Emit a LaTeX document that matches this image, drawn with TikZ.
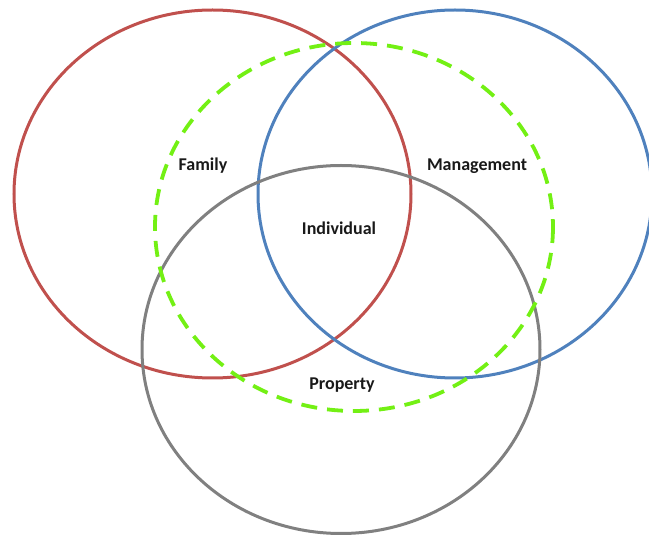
\documentclass[tikz,border=0pt]{standalone}
\usepackage{fontspec}
\setmainfont{Carlito}
\definecolor{vred}{RGB}{192,80,77}
\definecolor{vblue}{RGB}{79,129,189}
\definecolor{vgreen}{RGB}{115,240,20}
\definecolor{vgray}{RGB}{128,128,128}
\begin{document}
\begin{tikzpicture}[x=1pt,y=-1pt,
  ring/.style={line width=3pt},
  lbl/.style={font=\bfseries\fontsize{18}{20}\selectfont, text=black!90, inner sep=0pt}]
\useasboundingbox (0,0) rectangle (649,537);
\draw[ring, vred] (212.5,194) ellipse [x radius=198.5, y radius=184];
\draw[ring, vblue] (455,194) ellipse [x radius=197, y radius=184];
\draw[ring, vgray] (341,349.5) ellipse [x radius=199, y radius=184];
\draw[line width=3.8pt, vgreen, dash pattern=on 16pt off 10pt] (354,227) ellipse [x radius=199, y radius=184];
\node[lbl] (family) at (203,166) {Family};
\node[lbl] (mgmt) at (477,166) {Management};
\node[lbl] (indiv) at (339,228) {Individual};
\node[lbl] (prop) at (342,385) {Property};
\end{tikzpicture}
\end{document}
